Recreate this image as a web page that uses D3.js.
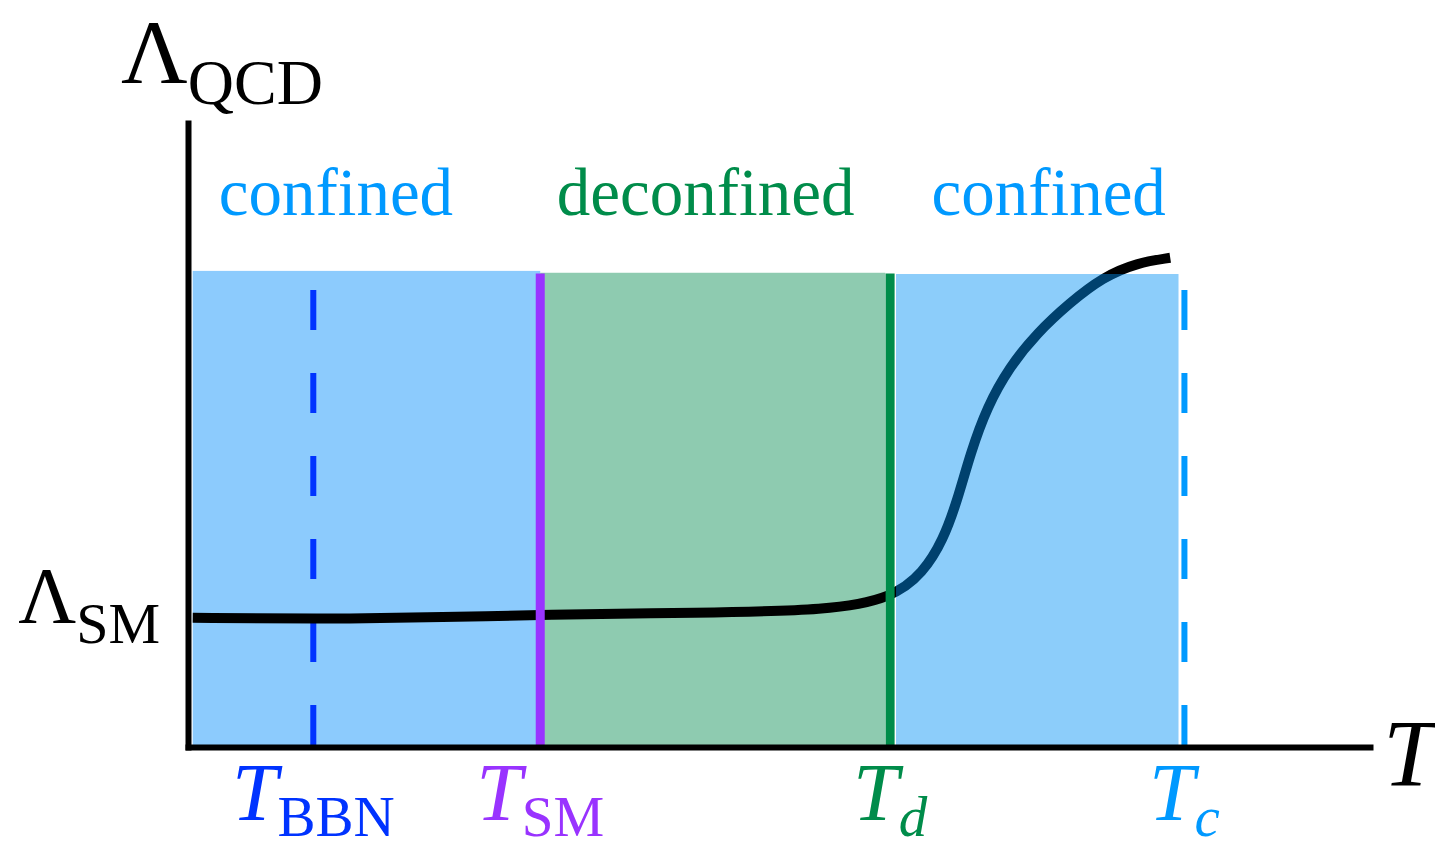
<!DOCTYPE html>
<html>
<head>
<meta charset="utf-8">
<script src="https://cdn.jsdelivr.net/npm/d3@7"></script>
<style>
  body { margin: 0; background: #fff; }
  text { font-family: "Liberation Serif", "Times New Roman", serif; }
</style>
</head>
<body>
<script>
// data (arbitrary units, 0..100 on both axes)
const curveT      = [0.4, 10.6, 22.2, 29.8, 43.3, 54.3, 59.6, 62.2, 63.9, 65.1, 66.2, 67.6, 69.5, 71.8, 74.6, 77.4, 80.3, 83.1];
const curveLambda = [20.7, 20.5, 20.8, 21.2, 21.5, 21.9, 23.9, 27.9, 33.2, 39.6, 47.1, 54.5, 60.9, 66.3, 71.2, 75.3, 77.6, 78.4];

// temperature marks
const markNames = ['BBN', 'SM', 'd', 'c'];
const markT     = [10.6, 29.8, 59.4, 84.3];
const markStyle = ['dashed', 'solid', 'solid', 'dashed'];
const markColor = ['#0033ff', '#9933ff', '#008c4a', '#0099ff'];
const markItalicSub = [false, false, true, true];

// phase regions
const regionNames = ['confined', 'deconfined', 'confined'];
const regionStart = [0.4, 29.8, 59.9];
const regionEnd   = [29.8, 59.0, 83.8];
const regionTop   = [76.3, 76.0, 75.8];
const regionLabelX = [2.6, 31.2, 62.9];
const regionColor = ['#8ccbfd', '#8ecbb0', '#0091f5'];
const regionOpacity = [1, 1, 0.45];
const regionTextColor = ['#0099ff', '#008c4a', '#0099ff'];

const lambdaSM = 20.8;
const labelY = 85.3;

const width = 1435, height = 850;

const svg = d3.select('body').append('svg')
    .attr('width', width)
    .attr('height', height);

const xScale = d3.scaleLinear().domain([0, 100]).range([188, 1370]);
const yScale = d3.scaleLinear().domain([0, 100]).range([747, 123]);

const regions = regionNames.map((n, i) => ({
    name: n, x0: regionStart[i], x1: regionEnd[i], top: regionTop[i],
    lx: regionLabelX[i], color: regionColor[i], op: regionOpacity[i], tc: regionTextColor[i]
}));
const marks = markNames.map((n, i) => ({
    name: n, t: markT[i], style: markStyle[i], color: markColor[i], italic: markItalicSub[i]
}));

function drawRegion(r) {
    svg.append('rect')
        .attr('x', xScale(r.x0))
        .attr('y', yScale(r.top))
        .attr('width', xScale(r.x1) - xScale(r.x0))
        .attr('height', yScale(0) - yScale(r.top))
        .attr('fill', r.color)
        .attr('fill-opacity', r.op);
}

function drawMark(m) {
    svg.append('line')
        .attr('x1', xScale(m.t)).attr('x2', xScale(m.t))
        .attr('y1', yScale(0) - 2)
        .attr('y2', m.style == 'dashed' ? 290 : yScale(75.9))
        .attr('stroke', m.color)
        .attr('stroke-width', m.style == 'dashed' ? 6 : 9)
        .attr('stroke-dasharray', m.style == 'dashed' ? '40,43' : null);
}

// under the curve: first two regions + BBN line
drawRegion(regions[0]);
drawRegion(regions[1]);
drawMark(marks[0]);

// the curve
const pts = curveT.map((t, i) => ({ t: t, l: curveLambda[i] }));
const line = d3.line()
    .x(d => xScale(d.t))
    .y(d => yScale(d.l))
    .curve(d3.curveBasis);

svg.append('path')
    .datum(pts)
    .attr('d', line)
    .attr('fill', 'none')
    .attr('stroke', '#000')
    .attr('stroke-width', 10);

drawMark(marks[1]);
drawMark(marks[2]);
// last region sits on top of the curve (semi transparent)
drawRegion(regions[2]);
drawMark(marks[3]);

// axes, no ticks
const xAxis = svg.append('g')
    .attr('transform', 'translate(0,' + yScale(0) + ')')
    .call(d3.axisBottom(xScale).tickValues([]).tickSizeOuter(0));
const yAxis = svg.append('g')
    .attr('transform', 'translate(' + xScale(0) + ',0)')
    .call(d3.axisLeft(yScale).tickValues([]).tickSizeOuter(0));
svg.selectAll('.domain').attr('stroke', '#000').attr('stroke-width', 6).attr('stroke-linecap', 'square');

// region labels
svg.selectAll('.region-label').data(regions)
    .enter()
    .append('text')
    .attr('class', 'region-label')
    .attr('x', d => xScale(d.lx))
    .attr('y', yScale(labelY))
    .attr('font-size', 67)
    .attr('fill', d => d.tc)
    .text(d => d.name);

// temperature labels
marks.forEach(m => {
    const t = svg.append('text')
        .attr('x', xScale(m.t))
        .attr('y', 820)
        .attr('text-anchor', 'middle')
        .attr('fill', m.color);
    t.append('tspan').attr('font-size', 82).attr('font-style', 'italic').text('T');
    t.append('tspan').attr('font-size', 57).attr('dy', 16)
        .attr('font-style', m.italic ? 'italic' : 'normal')
        .text(m.name);
});

// axis titles
const yl = svg.append('text').attr('x', 121).attr('y', 83).attr('fill', '#000');
yl.append('tspan').attr('font-size', 92).text('Λ');
yl.append('tspan').attr('font-size', 64).attr('dy', 21).text('QCD');

const sm = svg.append('text').attr('x', 160).attr('y', yScale(lambdaSM) + 6)
    .attr('text-anchor', 'end').attr('fill', '#000');
sm.append('tspan').attr('font-size', 80).text('Λ');
sm.append('tspan').attr('font-size', 58).attr('dy', 20).text('SM');

svg.append('text')
    .attr('x', 1383).attr('y', 786)
    .attr('font-size', 96)
    .attr('font-style', 'italic')
    .attr('fill', '#000')
    .text('T');
</script>
</body>
</html>
